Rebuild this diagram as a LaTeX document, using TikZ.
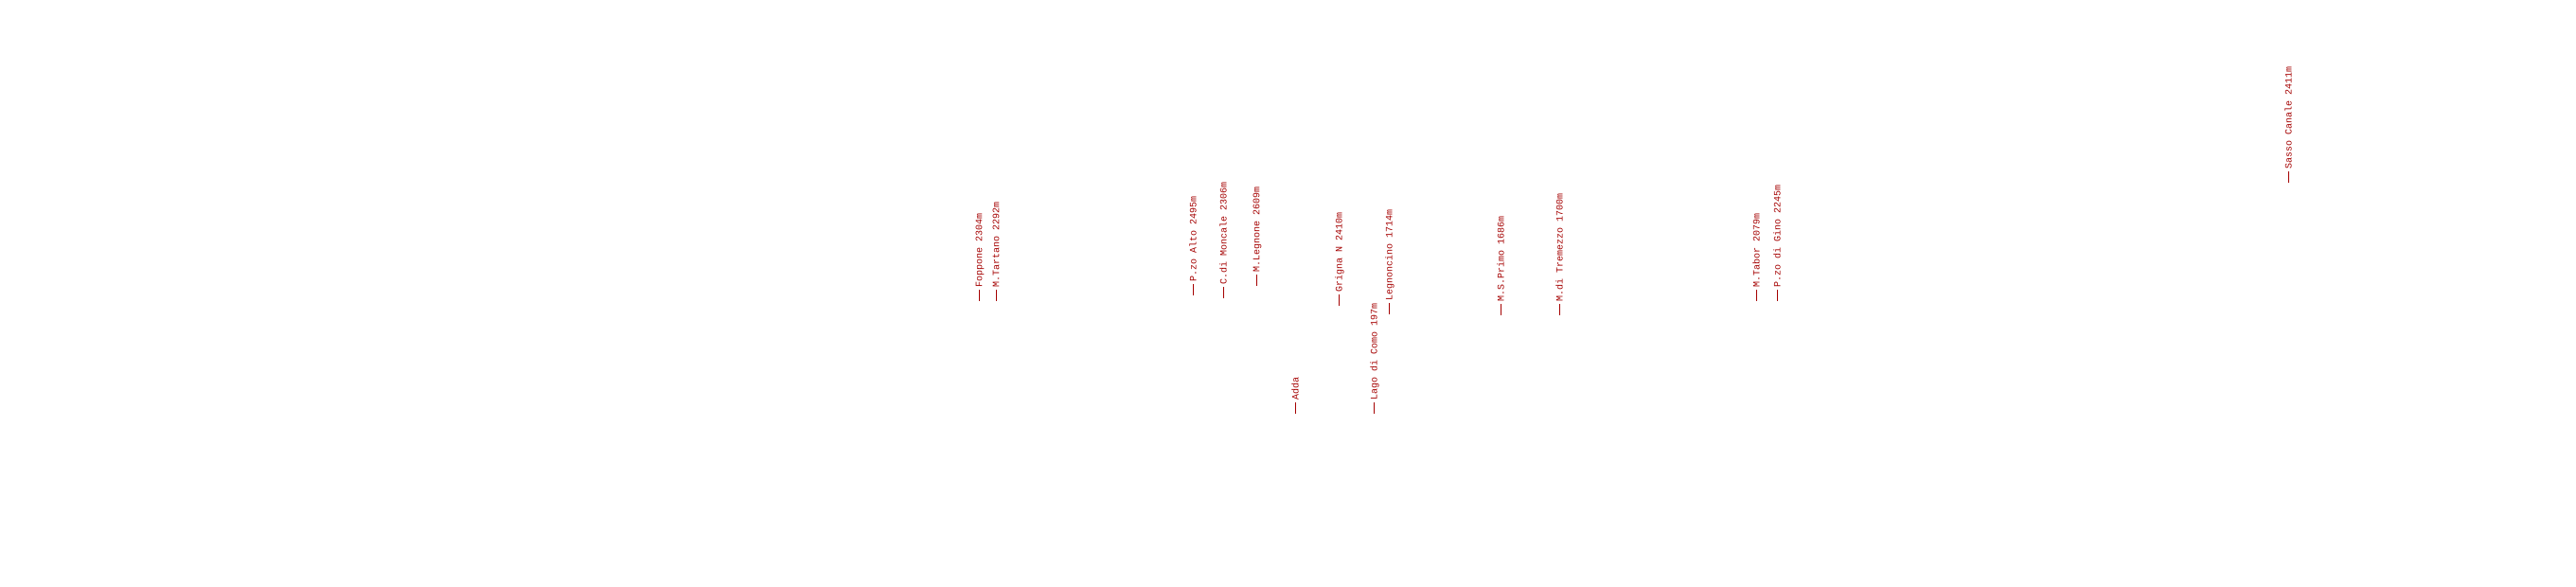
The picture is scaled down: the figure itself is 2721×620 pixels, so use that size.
\documentclass[tikz,border=0pt]{standalone}
\usepackage{fontspec}
\setmonofont{Liberation Mono}
\definecolor{peakred}{RGB}{165,0,0}
\tikzset{
  peak/.style={rotate=90, anchor=west, inner sep=0pt, text=peakred,
    font=\ttfamily\fontsize{5pt}{5pt}\selectfont},
}
\newcommand{\pk}[1]{{\color{peakred}\rule[0.22em]{6pt}{0.5pt}}\hspace{1pt}#1}
\begin{document}
\begin{tikzpicture}[x=0.5pt, y=-0.5pt]
\useasboundingbox[fill=white] (0,0) rectangle (2721,620);
\node[peak] (foppone) at (1035,318) {\pk{Foppone 2304m}};
\node[peak] (tartano) at (1052,318) {\pk{M.Tartano 2292m}};
\node[peak] (pzoalto) at (1260,312) {\pk{P.zo Alto 2495m}};
\node[peak] (moncale) at (1292,315) {\pk{C.di Moncale 2306m}};
\node[peak] (legnone) at (1328,302) {\pk{M.Legnone 2609m}};
\node[peak] (adda) at (1368,437) {\pk{Adda}};
\node[peak] (grigna) at (1415,323) {\pk{Grigna N 2410m}};
\node[peak] (como) at (1452,437) {\pk{Lago di Como 197m}};
\node[peak] (legnoncino) at (1468,332) {\pk{Legnoncino 1714m}};
\node[peak] (primo) at (1585,333) {\pk{M.S.Primo 1686m}};
\node[peak] (tremezzo) at (1647,333) {\pk{M.di Tremezzo 1700m}};
\node[peak] (tabor) at (1855,318) {\pk{M.Tabor 2079m}};
\node[peak] (gino) at (1877,318) {\pk{P.zo di Gino 2245m}};
\node[peak] (sasso) at (2417,193) {\pk{Sasso Canale 2411m}};
\end{tikzpicture}
\end{document}
